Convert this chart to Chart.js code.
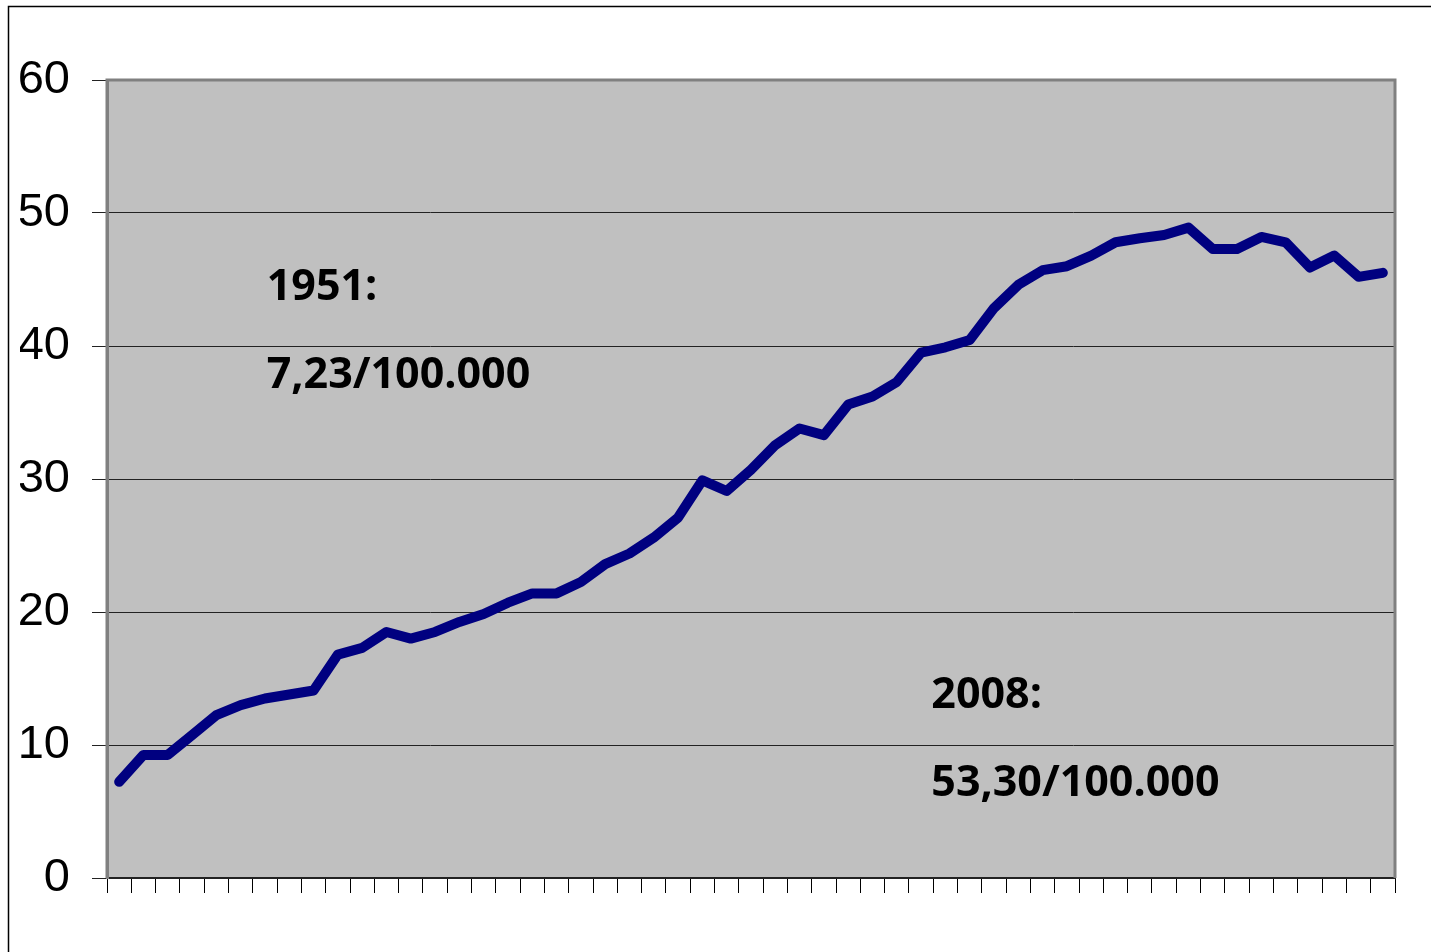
<!DOCTYPE html>
<html>
<head>
<meta charset="utf-8">
<script src="https://cdn.jsdelivr.net/npm/chart.js@4.4.1/dist/chart.umd.min.js"></script>
<style>
  html,body{margin:0;padding:0;background:#fff;}
  #wrap{position:relative;width:1431px;height:952px;}
</style>
</head>
<body>
<div id="wrap"><canvas id="chart"></canvas></div>
<script>
// years on the (unlabelled) category axis
const YEARS = Array.from({length:53},(_,i)=>String(1951+i));
// rate per 100.000
const RATES = [
  7.23, 9.25, 9.25, 10.75, 12.25, 13.0, 13.5, 13.8, 14.1, 16.8,
  17.3, 18.5, 18.0, 18.5, 19.25, 19.85, 20.7, 21.4, 21.4, 22.25,
  23.6, 24.4, 25.6, 27.1, 29.9, 29.1, 30.7, 32.55, 33.8, 33.3,
  35.6, 36.2, 37.3, 39.5, 39.9, 40.45, 42.85, 44.6, 45.7, 46.0,
  46.8, 47.8, 48.1, 48.35, 48.9, 47.3, 47.3, 48.2, 47.8, 45.9,
  46.8, 45.2, 45.5
];
const Y_TICKS = [0,10,20,30,40,50,60];
const NOTES = [
  ['1951:', 0.124, 300],
  ['7,23/100.000', 0.124, 388],
  ['2008:', 0.640, 708],
  ['53,30/100.000', 0.640, 796],
];

const plotBg = {
  id:'plotBg',
  beforeDraw(c){
    const {ctx,chartArea:a}=c;
    ctx.save();
    ctx.fillStyle='#C0C0C0';
    ctx.fillRect(a.left,a.top,a.right-a.left,a.bottom-a.top);
    ctx.restore();
  },
  afterDraw(c){
    const {ctx,chartArea:a}=c;
    ctx.save();
    ctx.strokeStyle='#808080'; ctx.lineWidth=3;
    ctx.beginPath();
    ctx.moveTo(a.left,a.bottom); ctx.lineTo(a.left,a.top);
    ctx.lineTo(a.right,a.top); ctx.lineTo(a.right,a.bottom);
    ctx.stroke();
    // outer frame
    ctx.strokeStyle='#000'; ctx.lineWidth=1.5;
    ctx.strokeRect(8.5,6.5,1440,1000);
    // notes
    ctx.fillStyle='#000';
    ctx.font='bold 43px "Open Sans", sans-serif';
    ctx.textBaseline='alphabetic';
    NOTES.forEach(([t,fx,y])=>ctx.fillText(t,a.left+fx*(a.right-a.left),y));
    ctx.restore();
  }
};

new Chart(document.getElementById('chart').getContext('2d'),{
  type:'line',
  data:{labels:YEARS,datasets:[{
    data:RATES,borderColor:'#000080',borderWidth:10,pointRadius:0,tension:0,
    borderCapStyle:'round',borderJoinStyle:'round',fill:false
  }]},
  options:{
    responsive:true,maintainAspectRatio:false,animation:false,
    layout:{padding:{left:20,top:80,right:36,bottom:59}},
    plugins:{legend:{display:false},tooltip:{enabled:false}},
    scales:{
      x:{
        offset:true,
        grid:{offset:true,drawOnChartArea:false,drawTicks:true,tickLength:15,color:'#000',lineWidth:1},
        border:{display:true,color:'#222',width:2},
        ticks:{display:false}
      },
      y:{
        min:0,max:60,
        afterBuildTicks:s=>{s.ticks=Y_TICKS.map(v=>({value:v}));},
        afterFit:s=>{s.width=87;},
        grid:{color:'#222',lineWidth:1,tickLength:15},
        border:{display:true,color:'#808080',width:3},
        ticks:{color:'#000',padding:22,font:{family:'"Liberation Sans", Arial, sans-serif',size:47}}
      }
    }
  },
  plugins:[plotBg]
});
</script>
</body>
</html>
